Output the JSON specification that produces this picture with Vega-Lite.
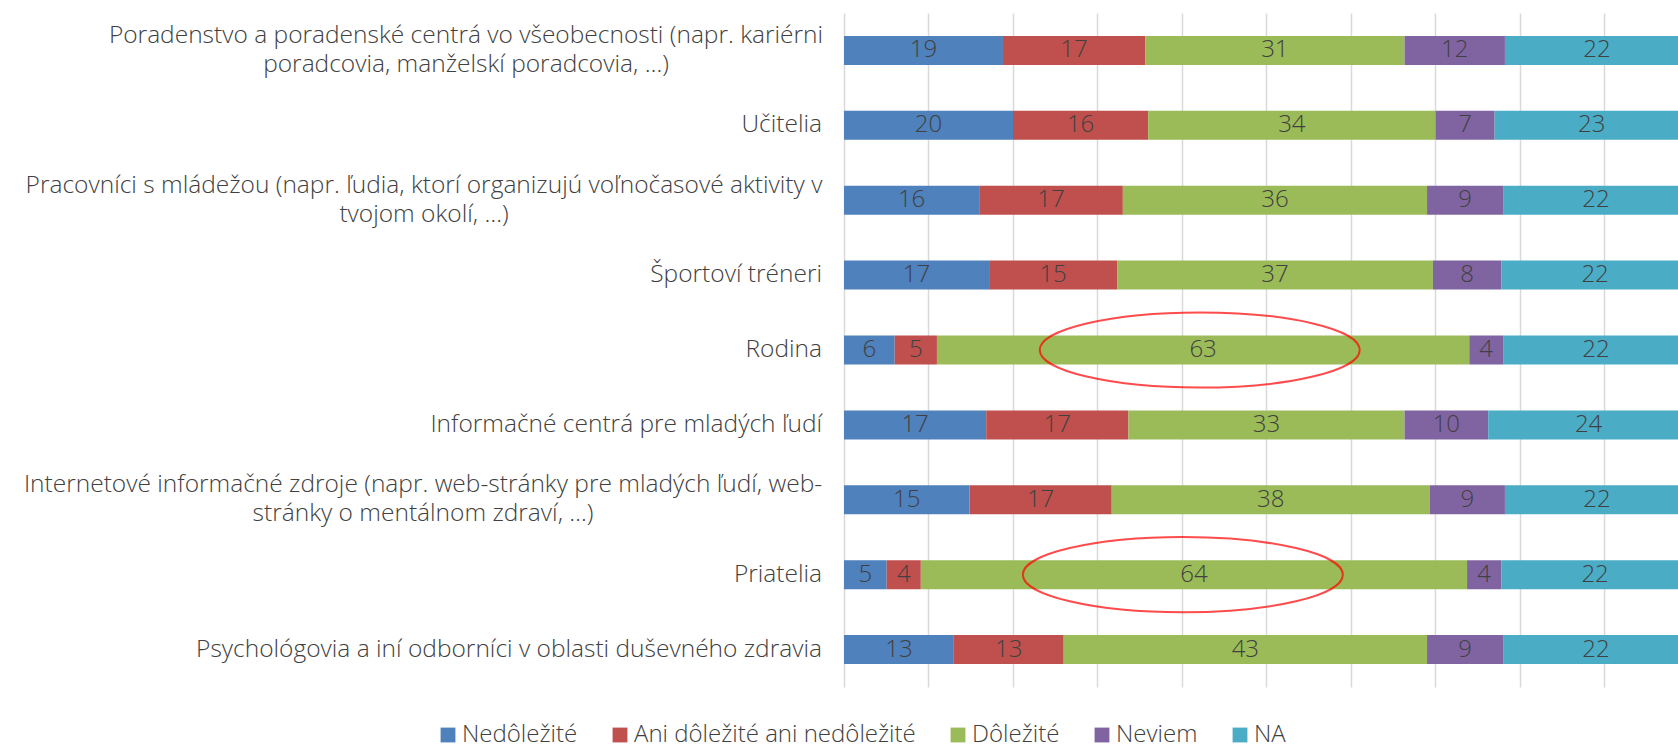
{
  "$schema": "https://vega.github.io/schema/vega-lite/v6.json",
  "width": 834,
  "height": 674,
  "autosize": {"type": "none"},
  "padding": {"left": 844, "top": 13, "right": 0, "bottom": 61},
  "background": "white",
  "config": {
    "font": "Open Sans",
    "view": {"stroke": null},
    "legend": {"labelFont": "Open Sans", "labelFontWeight": 300, "labelColor": "#404040"}
  },
  "datasets": {
    "bars": [
      {"source": "Poradenstvo a poradenské centrá vo všeobecnosti (napr. kariérni\nporadcovia, manželskí poradcovia, …)", "response": "Nedôležité", "i": 1, "pct": 19},
      {"source": "Poradenstvo a poradenské centrá vo všeobecnosti (napr. kariérni\nporadcovia, manželskí poradcovia, …)", "response": "Ani dôležité ani nedôležité", "i": 2, "pct": 17},
      {"source": "Poradenstvo a poradenské centrá vo všeobecnosti (napr. kariérni\nporadcovia, manželskí poradcovia, …)", "response": "Dôležité", "i": 3, "pct": 31},
      {"source": "Poradenstvo a poradenské centrá vo všeobecnosti (napr. kariérni\nporadcovia, manželskí poradcovia, …)", "response": "Neviem", "i": 4, "pct": 12},
      {"source": "Poradenstvo a poradenské centrá vo všeobecnosti (napr. kariérni\nporadcovia, manželskí poradcovia, …)", "response": "NA", "i": 5, "pct": 22},
      {"source": "Učitelia", "response": "Nedôležité", "i": 1, "pct": 20},
      {"source": "Učitelia", "response": "Ani dôležité ani nedôležité", "i": 2, "pct": 16},
      {"source": "Učitelia", "response": "Dôležité", "i": 3, "pct": 34},
      {"source": "Učitelia", "response": "Neviem", "i": 4, "pct": 7},
      {"source": "Učitelia", "response": "NA", "i": 5, "pct": 23},
      {"source": "Pracovníci s mládežou (napr. ľudia, ktorí organizujú voľnočasové aktivity v\ntvojom okolí, …)", "response": "Nedôležité", "i": 1, "pct": 16},
      {"source": "Pracovníci s mládežou (napr. ľudia, ktorí organizujú voľnočasové aktivity v\ntvojom okolí, …)", "response": "Ani dôležité ani nedôležité", "i": 2, "pct": 17},
      {"source": "Pracovníci s mládežou (napr. ľudia, ktorí organizujú voľnočasové aktivity v\ntvojom okolí, …)", "response": "Dôležité", "i": 3, "pct": 36},
      {"source": "Pracovníci s mládežou (napr. ľudia, ktorí organizujú voľnočasové aktivity v\ntvojom okolí, …)", "response": "Neviem", "i": 4, "pct": 9},
      {"source": "Pracovníci s mládežou (napr. ľudia, ktorí organizujú voľnočasové aktivity v\ntvojom okolí, …)", "response": "NA", "i": 5, "pct": 22},
      {"source": "Športoví tréneri", "response": "Nedôležité", "i": 1, "pct": 17},
      {"source": "Športoví tréneri", "response": "Ani dôležité ani nedôležité", "i": 2, "pct": 15},
      {"source": "Športoví tréneri", "response": "Dôležité", "i": 3, "pct": 37},
      {"source": "Športoví tréneri", "response": "Neviem", "i": 4, "pct": 8},
      {"source": "Športoví tréneri", "response": "NA", "i": 5, "pct": 22},
      {"source": "Rodina", "response": "Nedôležité", "i": 1, "pct": 6},
      {"source": "Rodina", "response": "Ani dôležité ani nedôležité", "i": 2, "pct": 5},
      {"source": "Rodina", "response": "Dôležité", "i": 3, "pct": 63},
      {"source": "Rodina", "response": "Neviem", "i": 4, "pct": 4},
      {"source": "Rodina", "response": "NA", "i": 5, "pct": 22},
      {"source": "Informačné centrá pre mladých ľudí", "response": "Nedôležité", "i": 1, "pct": 17},
      {"source": "Informačné centrá pre mladých ľudí", "response": "Ani dôležité ani nedôležité", "i": 2, "pct": 17},
      {"source": "Informačné centrá pre mladých ľudí", "response": "Dôležité", "i": 3, "pct": 33},
      {"source": "Informačné centrá pre mladých ľudí", "response": "Neviem", "i": 4, "pct": 10},
      {"source": "Informačné centrá pre mladých ľudí", "response": "NA", "i": 5, "pct": 24},
      {"source": "Internetové informačné zdroje (napr. web-stránky pre mladých ľudí, web-\nstránky o mentálnom zdraví, …)", "response": "Nedôležité", "i": 1, "pct": 15},
      {"source": "Internetové informačné zdroje (napr. web-stránky pre mladých ľudí, web-\nstránky o mentálnom zdraví, …)", "response": "Ani dôležité ani nedôležité", "i": 2, "pct": 17},
      {"source": "Internetové informačné zdroje (napr. web-stránky pre mladých ľudí, web-\nstránky o mentálnom zdraví, …)", "response": "Dôležité", "i": 3, "pct": 38},
      {"source": "Internetové informačné zdroje (napr. web-stránky pre mladých ľudí, web-\nstránky o mentálnom zdraví, …)", "response": "Neviem", "i": 4, "pct": 9},
      {"source": "Internetové informačné zdroje (napr. web-stránky pre mladých ľudí, web-\nstránky o mentálnom zdraví, …)", "response": "NA", "i": 5, "pct": 22},
      {"source": "Priatelia", "response": "Nedôležité", "i": 1, "pct": 5},
      {"source": "Priatelia", "response": "Ani dôležité ani nedôležité", "i": 2, "pct": 4},
      {"source": "Priatelia", "response": "Dôležité", "i": 3, "pct": 64},
      {"source": "Priatelia", "response": "Neviem", "i": 4, "pct": 4},
      {"source": "Priatelia", "response": "NA", "i": 5, "pct": 22},
      {"source": "Psychológovia a iní odborníci v oblasti duševného zdravia", "response": "Nedôležité", "i": 1, "pct": 13},
      {"source": "Psychológovia a iní odborníci v oblasti duševného zdravia", "response": "Ani dôležité ani nedôležité", "i": 2, "pct": 13},
      {"source": "Psychológovia a iní odborníci v oblasti duševného zdravia", "response": "Dôležité", "i": 3, "pct": 43},
      {"source": "Psychológovia a iní odborníci v oblasti duševného zdravia", "response": "Neviem", "i": 4, "pct": 9},
      {"source": "Psychológovia a iní odborníci v oblasti duševného zdravia", "response": "NA", "i": 5, "pct": 22}
    ],
    "marks": [
      {"source": "Rodina", "pos": 0.421},
      {"source": "Priatelia", "pos": 0.401}
    ]
  },
  "layer": [
    {
      "data": {"name": "bars"},
      "mark": {"type": "bar", "clip": true},
      "encoding": {
        "y": {
          "field": "source", "type": "nominal", "sort": null,
          "scale": {"paddingInner": 0.613, "paddingOuter": 0.3065},
          "axis": null
        },
        "x": {
          "field": "pct", "type": "quantitative", "stack": "normalize",
          "scale": {"domain": [0, 0.987], "nice": false, "zero": true},
          "axis": {
            "title": null, "labels": false, "ticks": false, "domain": false,
            "grid": true, "gridColor": "#D9D9D9", "gridWidth": 1.5,
            "values": [0, 0.1, 0.2, 0.3, 0.4, 0.5, 0.6, 0.7, 0.8, 0.9]
          }
        },
        "order": {"field": "i", "type": "quantitative"},
        "color": {
          "field": "response", "type": "nominal",
          "scale": {
            "domain": ["Nedôležité", "Ani dôležité ani nedôležité", "Dôležité", "Neviem", "NA"],
            "range": ["#4F81BD", "#C0504D", "#9BBB59", "#8064A2", "#4BACC6"]
          },
          "legend": {
            "title": null, "orient": "none", "direction": "horizontal",
            "legendX": -408, "legendY": 710, "symbolType": "square",
            "symbolSize": 220, "symbolStrokeWidth": 0, "labelFontSize": 24,
            "labelOffset": 2, "columnPadding": 30, "labelLimit": 600, "padding": 0
          }
        }
      }
    },
    {
      "data": {"name": "bars"},
      "mark": {"type": "text", "clip": true, "fontSize": 24, "fontWeight": 300, "color": "#404040", "baseline": "middle", "align": "center"},
      "encoding": {
        "y": {"field": "source", "type": "nominal", "sort": null},
        "x": {"field": "pct", "type": "quantitative", "stack": "normalize", "bandPosition": 0.5},
        "order": {"field": "i", "type": "quantitative"},
        "detail": {"field": "response", "type": "nominal"},
        "text": {"field": "pct", "type": "quantitative"}
      }
    },
    {
      "data": {"name": "bars"},
      "transform": [{"filter": "datum.i == 1 && indexof(datum.source, '\\n') < 0"}],
      "mark": {"type": "text", "fontSize": 24.5, "fontWeight": 300, "color": "#404040", "baseline": "middle", "align": "right", "dx": -22},
      "encoding": {
        "y": {"field": "source", "type": "nominal", "sort": null},
        "x": {"datum": 0, "type": "quantitative"},
        "text": {"field": "source", "type": "nominal"}
      }
    },
    {
      "data": {"name": "bars"},
      "transform": [{"filter": "datum.i == 1 && indexof(datum.source, 'Poradenstvo') == 0"}],
      "mark": {"type": "text", "fontSize": 24.5, "fontWeight": 300, "color": "#404040", "baseline": "middle", "align": "center", "dx": -378, "dy": -14.5, "lineBreak": "\n", "lineHeight": 29},
      "encoding": {
        "y": {"field": "source", "type": "nominal", "sort": null},
        "x": {"datum": 0, "type": "quantitative"},
        "text": {"field": "source", "type": "nominal"}
      }
    },
    {
      "data": {"name": "bars"},
      "transform": [{"filter": "datum.i == 1 && indexof(datum.source, 'Pracovníci') == 0"}],
      "mark": {"type": "text", "fontSize": 24.5, "fontWeight": 300, "color": "#404040", "baseline": "middle", "align": "center", "dx": -420, "dy": -14.5, "lineBreak": "\n", "lineHeight": 29},
      "encoding": {
        "y": {"field": "source", "type": "nominal", "sort": null},
        "x": {"datum": 0, "type": "quantitative"},
        "text": {"field": "source", "type": "nominal"}
      }
    },
    {
      "data": {"name": "bars"},
      "transform": [{"filter": "datum.i == 1 && indexof(datum.source, 'Internetové') == 0"}],
      "mark": {"type": "text", "fontSize": 24.5, "fontWeight": 300, "color": "#404040", "baseline": "middle", "align": "center", "dx": -421, "dy": -14.5, "lineBreak": "\n", "lineHeight": 29},
      "encoding": {
        "y": {"field": "source", "type": "nominal", "sort": null},
        "x": {"datum": 0, "type": "quantitative"},
        "text": {"field": "source", "type": "nominal"}
      }
    },
    {
      "data": {"name": "marks"},
      "mark": {
        "type": "point", "filled": false, "stroke": "#FF0000", "strokeWidth": 2,
        "size": 102400,
        "shape": "M-1,0 A1,0.235 0 1,0 1,0 A1,0.235 0 1,0 -1,0 Z"
      },
      "encoding": {
        "y": {"field": "source", "type": "nominal", "sort": null},
        "x": {"field": "pos", "type": "quantitative"}
      }
    }
  ]
}
